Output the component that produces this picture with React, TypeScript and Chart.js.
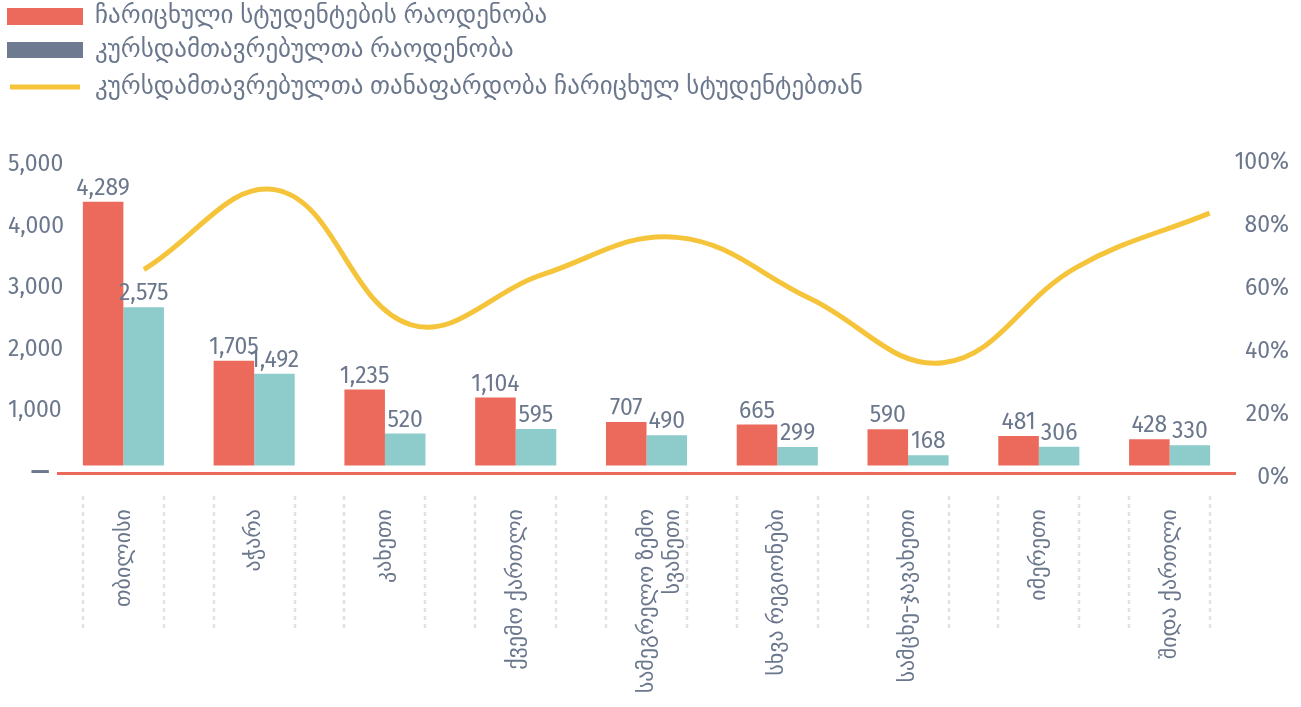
import React, { useEffect, useRef } from 'react';
import { Chart, registerables } from 'chart.js';

Chart.register(...registerables);

// ---------- data ----------
const categories: (string | string[])[] = [
  'თბილისი',
  'აჭარა',
  'კახეთი',
  'ქვემო ქართლი',
  ['სამეგრელო ზემო', 'სვანეთი'],
  'სხვა რეგიონები',
  'სამცხე-ჯავახეთი',
  'იმერეთი',
  'შიდა ქართლი',
];
const enrolled = [4289, 1705, 1235, 1104, 707, 665, 590, 481, 428];
const graduates = [2575, 1492, 520, 595, 490, 299, 168, 306, 330];
const ratioPct = [64.6, 89.8, 47.1, 63.1, 74.8, 55.4, 35.0, 65.3, 82.5];
const leftTicks = [0, 1000, 2000, 3000, 4000, 5000];
const rightTicks = [0, 20, 40, 60, 80, 100];
const seriesNames = [
  'ჩარიცხული სტუდენტების რაოდენობა',
  'კურსდამთავრებულთა რაოდენობა',
  'კურსდამთავრებულთა თანაფარდობა ჩარიცხულ სტუდენტებთან',
];

// ---------- style ----------
const RED = '#ec6a5c';
const TEAL = '#8ecbcb';
const SLATE = '#6e7a8f';
const YELLOW = '#f5c43a';
const TEXT = '#6b778c';
const DASH = '#e2e2e2';
const FONT = '"Fira Sans", Roboto, "Noto Sans", "DejaVu Sans", sans-serif';
const NUM_SIZE = 23;
const Y_MIN = -122;
const W = 1301;
const H = 707;

const fmt = (v: number) => v.toLocaleString('en-US');

const legendPlugin = {
  id: 'customLegend',
  afterDraw(chart: any) {
    const ctx = chart.ctx;
    ctx.save();
    ctx.font = `25px ${FONT}`;
    ctx.textBaseline = 'middle';
    ctx.textAlign = 'left';
    const rows = [16, 50, 87];
    ctx.fillStyle = RED;
    ctx.fillRect(7, rows[0] - 8, 76, 17);
    ctx.fillStyle = SLATE;
    ctx.fillRect(7, rows[1] - 8, 76, 16);
    ctx.strokeStyle = YELLOW;
    ctx.lineWidth = 5;
    ctx.beginPath();
    ctx.moveTo(10, rows[2]);
    ctx.lineTo(80, rows[2]);
    ctx.stroke();
    ctx.fillStyle = TEXT;
    seriesNames.forEach((n, i) => ctx.fillText(n, 95, rows[i]));
    ctx.restore();
  },
};

const labelsPlugin = {
  id: 'barLabels',
  afterDatasetsDraw(chart: any) {
    const ctx = chart.ctx;
    ctx.save();
    ctx.font = `${NUM_SIZE}px ${FONT}`;
    ctx.fillStyle = TEXT;
    ctx.textAlign = 'center';
    ctx.textBaseline = 'alphabetic';
    [0, 1].forEach((di) => {
      const meta = chart.getDatasetMeta(di);
      const vals = chart.data.datasets[di].data as number[];
      meta.data.forEach((el: any, i: number) => {
        ctx.fillText(fmt(vals[i]), el.x, el.y - 7);
      });
    });
    ctx.restore();
  },
};

const dashPlugin = {
  id: 'dashGuides',
  afterDraw(chart: any) {
    const ctx = chart.ctx;
    const a = chart.getDatasetMeta(0).data;
    const b = chart.getDatasetMeta(1).data;
    const top = chart.chartArea.bottom + 23;
    const bottom = chart.chartArea.bottom + 156;
    ctx.save();
    ctx.strokeStyle = DASH;
    ctx.lineWidth = 2.5;
    ctx.setLineDash([4, 4]);
    a.forEach((el: any, i: number) => {
      const xs = [el.x - el.width / 2, b[i].x + b[i].width / 2];
      xs.forEach((x) => {
        ctx.beginPath();
        ctx.moveTo(Math.round(x), top);
        ctx.lineTo(Math.round(x), bottom);
        ctx.stroke();
      });
    });
    ctx.restore();
  },
};

export default function App() {
  const barRef = useRef<HTMLCanvasElement | null>(null);
  const lineRef = useRef<HTMLCanvasElement | null>(null);

  useEffect(() => {
    if (!barRef.current || !lineRef.current) return;
    Chart.defaults.font.family = FONT;
    const main = new Chart(barRef.current, {
      type: 'bar',
      data: {
        labels: categories,
        datasets: [
          {
            label: seriesNames[0],
            data: enrolled,
            backgroundColor: RED,
            borderWidth: 0,
            barPercentage: 1,
            categoryPercentage: 0.62,
          },
          {
            label: seriesNames[1],
            data: graduates,
            backgroundColor: TEAL,
            borderWidth: 0,
            barPercentage: 1,
            categoryPercentage: 0.62,
          },
        ],
      },
      options: {
        animation: false,
        responsive: true,
        maintainAspectRatio: false,
        events: [],
        layout: { padding: { top: 158, left: 0, right: 12, bottom: 0 } },
        plugins: { legend: { display: false }, tooltip: { enabled: false } },
        scales: {
          x: {
            type: 'category',
            position: 'bottom',
            offset: true,
            grid: { display: false, drawTicks: false },
            border: { display: true, color: RED, width: 3 },
            ticks: {
              minRotation: 90,
              maxRotation: 90,
              autoSkip: false,
              padding: 36,
              color: TEXT,
              font: { family: FONT, size: 22 },
            },
            afterFit: (s: any) => {
              s.height = 234;
            },
          },
          y: {
            type: 'linear',
            position: 'left',
            min: Y_MIN,
            max: 5000,
            grid: { display: false, drawTicks: false },
            border: { display: false },
            afterBuildTicks: (s: any) => {
              s.ticks = leftTicks.map((v) => ({ value: v }));
            },
            ticks: {
              mirror: true,
              padding: -50,
              labelOffset: 7,
              color: TEXT,
              font: (c: any) => ({ family: FONT, size: NUM_SIZE, weight: c.index === 0 ? 'bold' : 'normal' }),
              callback: (v: any) => (Number(v) === 0 ? '\u2002\u2002—' : fmt(Number(v))),
            },
            afterFit: (s: any) => {
              s.width = 58;
            },
          },
          y1: {
            type: 'linear',
            position: 'right',
            min: 0,
            max: 100,
            grid: { display: false, drawTicks: false },
            border: { display: false },
            afterBuildTicks: (s: any) => {
              s.ticks = rightTicks.map((v) => ({ value: v }));
            },
            ticks: {
              crossAlign: 'far',
              padding: 0,
              labelOffset: 5,
              color: TEXT,
              font: { family: FONT, size: NUM_SIZE },
              callback: (v: any) => `${v}%`,
            },
            afterFit: (s: any) => {
              s.width = 54;
            },
          },
        } as any,
      },
      plugins: [legendPlugin, labelsPlugin, dashPlugin],
    });

    const ca = main.chartArea;
    const line = new Chart(lineRef.current, {
      type: 'line',
      data: {
        datasets: [
          {
            label: seriesNames[2],
            data: ratioPct.map((v, i) => ({ x: i, y: v })) as any,
            borderColor: YELLOW,
            borderWidth: 5,
            tension: 0.4,
            pointRadius: 0,
            fill: false,
          },
        ],
      },
      options: {
        animation: false,
        responsive: true,
        maintainAspectRatio: false,
        events: [],
        layout: {
          padding: { left: ca.left, top: ca.top, right: W - ca.right, bottom: H - ca.bottom },
        },
        plugins: { legend: { display: false }, tooltip: { enabled: false } },
        scales: {
          x: { type: 'linear', display: false, min: -0.645, max: 8.19 },
          y: { type: 'linear', display: false, min: rightTicks[0], max: rightTicks[rightTicks.length - 1] },
        },
      },
    });

    return () => {
      line.destroy();
      main.destroy();
    };
  }, []);

  const box: React.CSSProperties = { position: 'absolute', left: 0, top: 0, width: `${W}px`, height: `${H}px` };
  return (
    <div style={{ position: 'absolute', left: 0, top: 0, width: `${W}px`, height: `${H}px` }}>
      <div style={box}>
        <canvas ref={barRef} />
      </div>
      <div style={box}>
        <canvas ref={lineRef} />
      </div>
    </div>
  );
}
